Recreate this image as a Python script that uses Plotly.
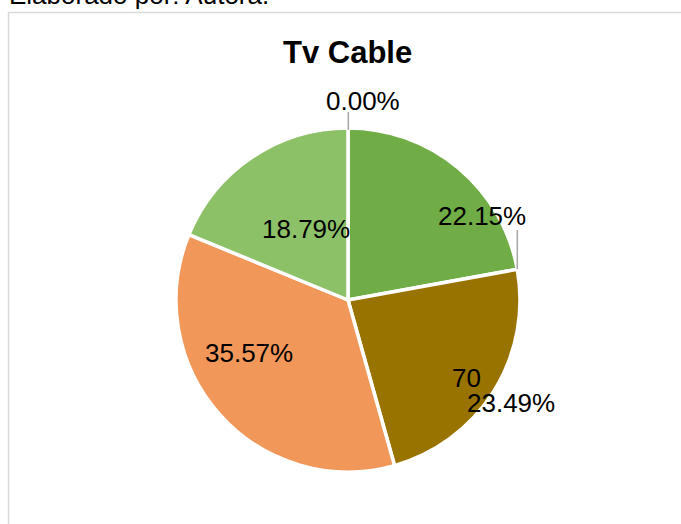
import plotly.graph_objects as go

# ---- data ----
categories = ["Sin respuesta", "Categoría A", "Categoría B", "Categoría C", "Categoría D"]
values = [0, 66, 70, 106, 56]
colors = ["#5B9BD5", "#70AD47", "#997300", "#F1975A", "#8CC168"]
title_text = "Tv Cable"
source_text = "Elaborado por: Autora."

W, H = 681, 524
FONT = "Liberation Sans, Arial, sans-serif"


def px(x, y):
    return x / W, (H - y) / H


total = sum(values)
pct = [v / total * 100 for v in values]

fig = go.Figure()
fig.add_trace(go.Pie(
    labels=categories,
    values=values,
    sort=False,
    direction="clockwise",
    rotation=0,
    marker=dict(colors=colors, line=dict(color="white", width=3.5)),
    textinfo="none",
    hoverinfo="label+value+percent",
    showlegend=False,
    domain=dict(x=[176 / W, 520 / W], y=[(H - 472) / H, (H - 128) / H]),
))

# label placements (pixel positions of label centres)
label_pos = {
    0: [(363, 101)],
    1: [(481.5, 216)],
    2: [(466.5, 378), (510.5, 402.5)],
    3: [(248.5, 353)],
    4: [(305.5, 229.5)],
}

annotations = []
for i, positions in label_pos.items():
    texts = ["%.2f%%" % pct[i]]
    if len(positions) == 2:
        texts = [str(values[i]), "%.2f%%" % pct[i]]
    for (x, y), t in zip(positions, texts):
        ax, ay = px(x, y)
        annotations.append(dict(
            x=ax, y=ay, xref="paper", yref="paper", text=t, showarrow=False,
            xanchor="center", yanchor="middle",
            font=dict(family=FONT, size=26, color="#000000"),
        ))

# title
tx, ty = px(347, 52)
annotations.append(dict(
    x=tx, y=ty, xref="paper", yref="paper", text="<b>%s</b>" % title_text,
    showarrow=False, xanchor="center", yanchor="middle",
    font=dict(family=FONT, size=31, color="#000000"),
))
# source text (cut off at top, as in the reference)
sx, sy = px(7, -5.5)
annotations.append(dict(
    x=sx, y=sy, xref="paper", yref="paper", text=source_text,
    showarrow=False, xanchor="left", yanchor="middle",
    font=dict(family=FONT, size=26, color="#000000"),
))

shapes = []
# chart frame
fx0, fy0 = px(8.5, 12.5)
shapes.append(dict(type="rect", xref="paper", yref="paper",
                   x0=fx0, x1=1.05, y0=-0.05, y1=fy0,
                   line=dict(color="#D9D9D9", width=1.5), fillcolor="rgba(0,0,0,0)",
                   layer="below"))
# leader lines
for (x0, y0, x1, y1) in [(348.3, 112, 348.3, 130), (517.3, 230, 517.3, 269)]:
    a0, b0 = px(x0, y0)
    a1, b1 = px(x1, y1)
    shapes.append(dict(type="line", xref="paper", yref="paper",
                       x0=a0, y0=b0, x1=a1, y1=b1,
                       line=dict(color="#A6A6A6", width=1.5)))

fig.update_layout(
    width=W, height=H,
    margin=dict(l=0, r=0, t=0, b=0),
    paper_bgcolor="white",
    plot_bgcolor="white",
    annotations=annotations,
    shapes=shapes,
    font=dict(family=FONT),
)

fig.write_html("out.html")
